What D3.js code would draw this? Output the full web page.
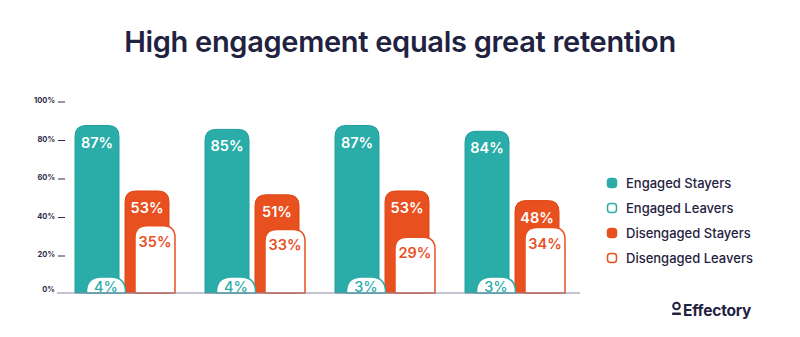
<!DOCTYPE html>
<html>
<head>
<meta charset="utf-8">
<script src="https://cdn.jsdelivr.net/npm/d3@7"></script>
<style>
  html, body { margin: 0; padding: 0; background: #ffffff; }
  svg { display: block; }
</style>
</head>
<body>
<svg id="chart" width="800" height="337"></svg>
<script>
// ---- Data ----
const groups = ["G1", "G2", "G3", "G4"];
const engagedStayers = [87, 85, 87, 84];
const engagedLeavers = [4, 4, 3, 3];
const disengagedStayers = [53, 51, 53, 48];
const disengagedLeavers = [35, 33, 29, 34];
const tickValues = [0, 20, 40, 60, 80, 100];
const tickLabels = ["0%", "20%", "40%", "60%", "80%", "100%"];
const legendLabels = ["Engaged Stayers", "Engaged Leavers", "Disengaged Stayers", "Disengaged Leavers"];
const titleText = "High engagement equals great retention";

// ---- Style ----
const TEAL = "#2aaca8", TEAL_DARK = "#22a09c";
const ORANGE = "#e9501f", ORANGE_DARK = "#dc4716";
const NAVY = "#1f2240";
const FONT = "Inter, 'Open Sans', sans-serif";

const svg = d3.select("#chart");
const baseY = 293;
const y = d3.scaleLinear().domain([0, 100]).range([baseY, 100.5]);
const x = d3.scaleBand().domain(groups).range([75, 595]).paddingInner(0).paddingOuter(0);
const stayerW = 44, leaverW = 39;
const offsets = { es: 0, el: 11.5, ds: 50, dl: 60 };
const minH = 16;

function topRounded(x0, w, top, r) {
  const h = baseY - top;
  r = Math.min(r, w / 2, h);
  return `M${x0},${baseY} L${x0},${top + r} Q${x0},${top} ${x0 + r},${top} L${x0 + w - r},${top} Q${x0 + w},${top} ${x0 + w},${top + r} L${x0 + w},${baseY} Z`;
}
function barTop(v) { return Math.min(y(v), baseY - minH); }

// Title
const title = svg.append("text")
  .attr("x", 400).attr("y", 52)
  .attr("text-anchor", "middle")
  .attr("font-family", FONT).attr("font-weight", 600)
  .attr("font-size", 29).attr("letter-spacing", -0.3)
  .attr("fill", NAVY)
  .text(titleText);

// Axis ticks
const axisG = svg.append("g");
tickValues.forEach((v, i) => {
  axisG.append("text")
    .attr("x", 55).attr("y", y(v) + (v === 0 ? -1 : 2.5))
    .attr("text-anchor", "end")
    .attr("font-family", FONT).attr("font-weight", 700)
    .attr("font-size", 7.5).attr("fill", "#2a2d45")
    .text(tickLabels[i]);
  if (v !== 0) {
    axisG.append("line")
      .attr("x1", 58).attr("x2", 65)
      .attr("y1", y(v) + 1.5).attr("y2", y(v) + 1.5)
      .attr("stroke", "#2a2d45").attr("stroke-width", 1);
  }
});

// Bars
const barsG = svg.append("g");
groups.forEach((g, i) => {
  const gx = x(g);
  // Engaged stayers
  const esTop = barTop(engagedStayers[i]);
  barsG.append("path").attr("d", topRounded(gx + offsets.es, stayerW, esTop, 11))
    .attr("fill", TEAL).attr("stroke", TEAL_DARK).attr("stroke-width", 1);
  barsG.append("text").attr("x", gx + offsets.es + stayerW / 2).attr("y", esTop + 22)
    .attr("text-anchor", "middle").attr("font-family", FONT).attr("font-weight", 600)
    .attr("font-size", 14.5).attr("fill", "#ffffff").text(engagedStayers[i] + "%");

  // Disengaged stayers
  const dsTop = barTop(disengagedStayers[i]);
  barsG.append("path").attr("d", topRounded(gx + offsets.ds, stayerW, dsTop, 11))
    .attr("fill", ORANGE).attr("stroke", ORANGE_DARK).attr("stroke-width", 1);
  barsG.append("text").attr("x", gx + offsets.ds + stayerW / 2).attr("y", dsTop + 22)
    .attr("text-anchor", "middle").attr("font-family", FONT).attr("font-weight", 600)
    .attr("font-size", 14.5).attr("fill", "#ffffff").text(disengagedStayers[i] + "%");

  // Engaged leavers (outlined)
  const elTop = barTop(engagedLeavers[i]);
  barsG.append("path").attr("d", topRounded(gx + offsets.el, leaverW, elTop, 15))
    .attr("fill", "#ffffff").attr("stroke", TEAL).attr("stroke-width", 1.5);
  barsG.append("text").attr("x", gx + offsets.el + leaverW / 2)
    .attr("y", Math.min(elTop + 22, baseY - 1))
    .attr("text-anchor", "middle").attr("font-family", FONT).attr("font-weight", 500)
    .attr("font-size", 14.5).attr("fill", TEAL).text(engagedLeavers[i] + "%");

  // Disengaged leavers (outlined)
  const dlTop = barTop(disengagedLeavers[i]);
  barsG.append("path").attr("d", topRounded(gx + offsets.dl, leaverW + 1, dlTop, 12))
    .attr("fill", "#ffffff").attr("stroke", ORANGE).attr("stroke-width", 1.5);
  barsG.append("text").attr("x", gx + offsets.dl + (leaverW + 1) / 2).attr("y", dlTop + 21)
    .attr("text-anchor", "middle").attr("font-family", FONT).attr("font-weight", 600)
    .attr("font-size", 14.5).attr("fill", ORANGE).text(disengagedLeavers[i] + "%");
});

// Baseline
svg.append("line")
  .attr("x1", 57).attr("x2", x.range()[1] - 15)
  .attr("y1", baseY).attr("y2", baseY)
  .attr("stroke", "#8a87a3").attr("stroke-width", 1.2);

// Legend
const legendStyles = [
  { fill: TEAL, stroke: TEAL },
  { fill: "#ffffff", stroke: TEAL },
  { fill: ORANGE, stroke: ORANGE },
  { fill: "#ffffff", stroke: ORANGE }
];
const legendY = d3.scalePoint().domain(legendLabels).range([183, 258]);
const lg = svg.append("g");
legendLabels.forEach((lab, i) => {
  const cy = legendY(lab);
  lg.append("rect").attr("x", 607.5).attr("y", cy - 4.5).attr("width", 9).attr("height", 9)
    .attr("rx", 3).attr("fill", legendStyles[i].fill)
    .attr("stroke", legendStyles[i].stroke).attr("stroke-width", 1.5);
  lg.append("text").attr("x", 626).attr("y", cy + 4.5)
    .attr("font-family", FONT).attr("font-weight", 500).attr("font-size", 13)
    .attr("fill", NAVY).text(lab);
});

// Logo
const logo = svg.append("g");
logo.append("circle").attr("cx", 676.5).attr("cy", 306).attr("r", 3.3)
  .attr("fill", "none").attr("stroke", NAVY).attr("stroke-width", 2);
logo.append("rect").attr("x", 672).attr("y", 312.5).attr("width", 9).attr("height", 2.6)
  .attr("rx", 1.2).attr("fill", NAVY);
logo.append("text").attr("x", 683).attr("y", 315.5)
  .attr("font-family", FONT).attr("font-weight", 700).attr("font-size", 15.5)
  .attr("letter-spacing", -0.2)
  .attr("fill", NAVY).text("Effectory");
</script>
</body>
</html>
